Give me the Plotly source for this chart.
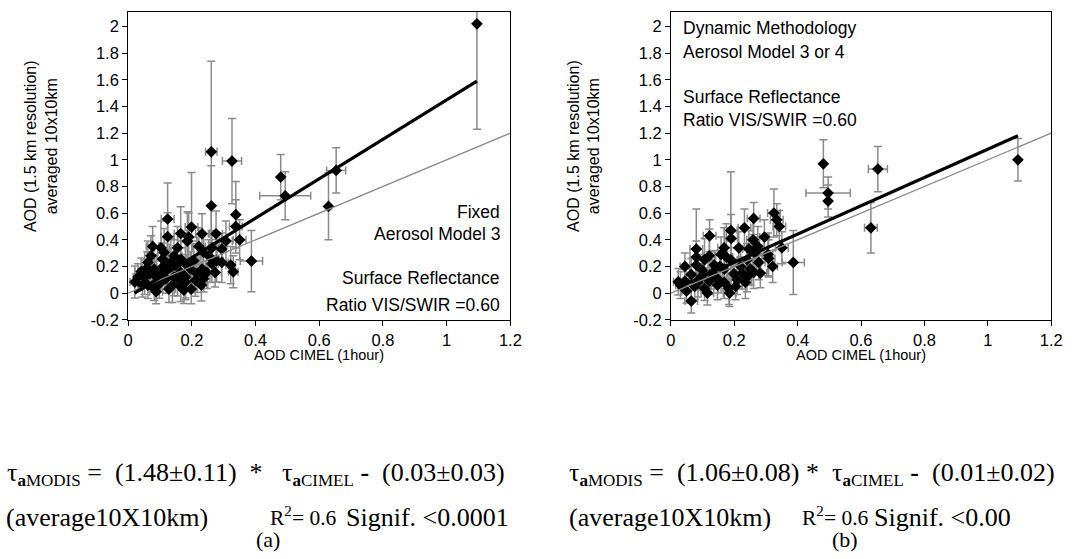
import plotly.graph_objects as go

W, H = 1076, 559

# ---------------- data ----------------
# Panel (a): Fixed, aerosol model 3
A_X = [1.095, 0.261, 0.326, 0.479, 0.493, 0.653, 0.629, 0.387, 0.261, 0.338,
       0.338, 0.350, 0.124, 0.124, 0.199, 0.165, 0.190, 0.232, 0.276, 0.186,
       0.307, 0.077, 0.103, 0.155, 0.222, 0.263, 0.294, 0.072, 0.108, 0.134,
       0.165, 0.206, 0.253, 0.278, 0.322, 0.021, 0.041, 0.052, 0.082, 0.103,
       0.124, 0.144, 0.165, 0.180, 0.196, 0.216, 0.237, 0.247, 0.273, 0.062,
       0.082, 0.098, 0.139, 0.165, 0.180, 0.175, 0.211, 0.088, 0.031, 0.150,
       0.180, 0.113, 0.237, 0.144, 0.062, 0.088, 0.067, 0.119, 0.155, 0.232,
       0.294, 0.263, 0.330, 0.198, 0.045, 0.128, 0.230, 0.060, 0.110]
A_Y = [2.02, 1.06, 0.99, 0.87, 0.73, 0.92, 0.65, 0.24, 0.655, 0.588,
       0.50, 0.40, 0.556, 0.423, 0.495, 0.447, 0.420, 0.445, 0.445, 0.390,
       0.390, 0.350, 0.340, 0.340, 0.350, 0.340, 0.330, 0.280, 0.255, 0.230,
       0.255, 0.243, 0.280, 0.243, 0.210, 0.083, 0.163, 0.120, 0.180, 0.145,
       0.180, 0.120, 0.155, 0.120, 0.180, 0.145, 0.108, 0.155, 0.155, 0.059,
       0.034, 0.071, 0.059, 0.047, 0.083, 0.022, 0.096, 0.010, 0.120, 0.207,
       0.220, 0.305, 0.305, 0.280, 0.230, 0.120, 0.145, 0.108, 0.108, 0.180,
       0.230, 0.220, 0.160, 0.030, 0.060, 0.030, 0.060, 0.190, 0.200]
A_EX = [0.000, 0.018, 0.030, 0.000, 0.080, 0.030, 0.000, 0.035, 0.000, 0.000,
        0.020, 0.020, 0.020, 0.020, 0.020, 0.020, 0.025, 0.020, 0.020, 0.030,
        0.020, 0.020, 0.020, 0.025, 0.020, 0.020, 0.015, 0.020, 0.020, 0.030,
        0.020, 0.020, 0.025, 0.020, 0.015, 0.015, 0.020, 0.020, 0.020, 0.025,
        0.020, 0.020, 0.030, 0.020, 0.020, 0.025, 0.020, 0.020, 0.020, 0.015,
        0.020, 0.020, 0.025, 0.020, 0.020, 0.020, 0.025, 0.020, 0.015, 0.030,
        0.020, 0.020, 0.020, 0.025, 0.020, 0.020, 0.015, 0.020, 0.020, 0.020,
        0.020, 0.020, 0.015, 0.020, 0.015, 0.020, 0.020, 0.015, 0.020]
A_EY = [0.79, 0.68, 0.32, 0.17, 0.18, 0.17, 0.25, 0.23, 0.30, 0.25,
        0.20, 0.15, 0.27, 0.18, 0.41, 0.20, 0.18, 0.15, 0.17, 0.22,
        0.15, 0.15, 0.20, 0.16, 0.14, 0.13, 0.12, 0.15, 0.12, 0.18,
        0.14, 0.13, 0.12, 0.16, 0.14, 0.12, 0.10, 0.13, 0.11, 0.12,
        0.15, 0.14, 0.12, 0.17, 0.13, 0.14, 0.10, 0.12, 0.11, 0.10,
        0.09, 0.11, 0.13, 0.11, 0.12, 0.10, 0.12, 0.09, 0.10, 0.15,
        0.16, 0.18, 0.14, 0.12, 0.16, 0.12, 0.10, 0.11, 0.13, 0.12,
        0.15, 0.14, 0.12, 0.11, 0.09, 0.10, 0.12, 0.12, 0.13]

# Panel (b): Dynamic methodology, aerosol model 3 or 4
B_X = [1.095, 0.653, 0.631, 0.481, 0.496, 0.496, 0.325, 0.334, 0.342, 0.350,
       0.321, 0.386, 0.261, 0.232, 0.189, 0.122, 0.190, 0.259, 0.295, 0.274,
       0.246, 0.214, 0.168, 0.080, 0.121, 0.080, 0.158, 0.106, 0.189, 0.240,
       0.277, 0.137, 0.080, 0.220, 0.044, 0.168, 0.251, 0.100, 0.199, 0.064,
       0.137, 0.240, 0.023, 0.044, 0.085, 0.121, 0.168, 0.209, 0.075, 0.106,
       0.147, 0.183, 0.049, 0.064, 0.204, 0.235, 0.261, 0.282, 0.308, 0.306,
       0.155, 0.130, 0.175, 0.030, 0.095, 0.225, 0.265, 0.115, 0.185, 0.150]
B_Y = [1.00, 0.93, 0.49, 0.97, 0.75, 0.69, 0.60, 0.55, 0.50, 0.34,
       0.20, 0.23, 0.56, 0.49, 0.47, 0.43, 0.41, 0.40, 0.42, 0.35,
       0.33, 0.34, 0.34, 0.33, 0.28, 0.27, 0.29, 0.25, 0.25, 0.25,
       0.23, 0.21, 0.21, 0.20, 0.20, 0.18, 0.18, 0.17, 0.145, 0.14,
       0.13, 0.12, 0.085, 0.09, 0.08, 0.09, 0.08, 0.10, 0.05, 0.035,
       0.06, 0.035, 0.015, -0.06, 0.05, 0.08, 0.155, 0.15, 0.26, 0.29,
       0.20, 0.15, 0.27, 0.06, 0.12, 0.15, 0.30, 0.00, 0.00, 0.10]
B_EX = [0.000, 0.030, 0.020, 0.000, 0.070, 0.000, 0.020, 0.020, 0.020, 0.020,
        0.015, 0.035, 0.020, 0.020, 0.020, 0.020, 0.020, 0.020, 0.015, 0.020,
        0.020, 0.025, 0.020, 0.020, 0.020, 0.020, 0.020, 0.020, 0.020, 0.020,
        0.020, 0.020, 0.020, 0.025, 0.015, 0.020, 0.020, 0.020, 0.020, 0.015,
        0.025, 0.020, 0.015, 0.015, 0.020, 0.020, 0.020, 0.020, 0.020, 0.020,
        0.020, 0.025, 0.015, 0.020, 0.020, 0.020, 0.020, 0.020, 0.020, 0.015,
        0.020, 0.020, 0.020, 0.015, 0.020, 0.020, 0.020, 0.020, 0.020, 0.020]
B_EY = [0.16, 0.17, 0.19, 0.18, 0.12, 0.12, 0.18, 0.12, 0.12, 0.12,
        0.12, 0.24, 0.12, 0.14, 0.44, 0.12, 0.18, 0.16, 0.13, 0.15,
        0.14, 0.12, 0.15, 0.30, 0.20, 0.12, 0.13, 0.16, 0.14, 0.12,
        0.13, 0.11, 0.12, 0.12, 0.10, 0.13, 0.12, 0.12, 0.11, 0.12,
        0.10, 0.11, 0.10, 0.09, 0.11, 0.10, 0.12, 0.11, 0.10, 0.09,
        0.11, 0.12, 0.09, 0.09, 0.10, 0.12, 0.12, 0.11, 0.14, 0.16,
        0.12, 0.10, 0.25, 0.10, 0.10, 0.12, 0.12, 0.09, 0.10, 0.10]

# regression lines (end points) and 1:1 line
A_FIT_X = [0.02, 1.095]
A_FIT_Y = [0.0, 1.59]
B_FIT_X = [0.02, 1.095]
B_FIT_Y = [0.04, 1.18]
ONE_X = [-0.05, 1.25]
ONE_Y = [-0.05, 1.25]

X_TICKS = [0, 0.2, 0.4, 0.6, 0.8, 1.0, 1.2]
X_TICK_TEXT = ["0", "0.2", "0.4", "0.6", "0.8", "1", "1.2"]
Y_TICKS = [-0.2, 0, 0.2, 0.4, 0.6, 0.8, 1.0, 1.2, 1.4, 1.6, 1.8, 2.0]
Y_TICK_TEXT = ["-0.2", "0", "0.2", "0.4", "0.6", "0.8", "1", "1.2", "1.4", "1.6", "1.8", "2"]

X_TITLE = "AOD CIMEL (1hour)"
Y_TITLE = "AOD (1.5 km resolution)<br>averaged 10x10km"

NB = "\u00a0"
SUB_M = "<sub><span style='font-size:17px'><b>a</b>MODIS</span></sub>"
SUB_C = "<sub><span style='font-size:17px'><b>a</b>CIMEL</span></sub>"
EQ_A = ("τ" + SUB_M + NB + "=" + NB * 2 + "(1.48±0.11)" + NB * 2 + "*" + NB * 3 + "τ" + SUB_C
        + NB + "<b>-</b>" + NB * 2 + "(0.03±0.03)")
EQ_B = ("τ" + SUB_M + NB + "=" + NB * 2 + "(1.06±0.08)" + NB + "*" + NB * 2 + "τ" + SUB_C
        + NB + "<b>-</b>" + NB * 2 + "(0.01±0.02)")
STATS_A = ["(average10X10km)", "R<sup>2</sup>= 0.6", "Signif. <0.0001", "(a)"]
STATS_B = ["(average10X10km)", "R<sup>2</sup>= 0.6", "Signif. <0.00", "(b)"]

# ---------------- figure ----------------
SANS = "Liberation Sans, Arial, sans-serif"
SERIF = "Liberation Serif, Times New Roman, serif"
GREY = "#8a8a8a"

fig = go.Figure()


def add_panel(xs, ys, exs, eys, fx, fy, xa, ya):
    fig.add_trace(go.Scatter(
        x=xs, y=ys, mode="markers", xaxis=xa, yaxis=ya,
        marker=dict(symbol="diamond", size=9, color="black"),
        error_x=dict(type="data", array=exs, color=GREY, thickness=1.5, width=4),
        error_y=dict(type="data", array=eys, color=GREY, thickness=1.5, width=4),
        showlegend=False, cliponaxis=True))
    fig.add_trace(go.Scatter(
        x=ONE_X, y=ONE_Y, mode="lines", xaxis=xa, yaxis=ya,
        line=dict(color=GREY, width=1.3), showlegend=False))
    fig.add_trace(go.Scatter(
        x=fx, y=fy, mode="lines", xaxis=xa, yaxis=ya,
        line=dict(color="black", width=3.2), showlegend=False))


add_panel(A_X, A_Y, A_EX, A_EY, A_FIT_X, A_FIT_Y, "x", "y")
add_panel(B_X, B_Y, B_EX, B_EY, B_FIT_X, B_FIT_Y, "x2", "y2")

ydom = [1 - 325 / H, 1 - 12 / H]
ax_common = dict(showline=True, linecolor="black", linewidth=1, mirror=True,
                 ticks="outside", ticklen=5, tickcolor="black", showgrid=False,
                 zeroline=False, tickfont=dict(family=SANS, size=16.5, color="black"))
xa = dict(ax_common, range=[0, 1.2], tickvals=X_TICKS, ticktext=X_TICK_TEXT)
ya = dict(ax_common, range=[-0.2, 2.11], tickvals=Y_TICKS, ticktext=Y_TICK_TEXT)

fig.update_layout(
    width=W, height=H, margin=dict(l=0, r=0, t=0, b=0),
    paper_bgcolor="white", plot_bgcolor="white",
    xaxis=dict(xa, domain=[125 / W, 513 / W], anchor="y"),
    yaxis=dict(ya, domain=ydom, anchor="x"),
    xaxis2=dict(xa, domain=[676 / W, 1062 / W], anchor="y2"),
    yaxis2=dict(ya, domain=ydom, anchor="x2"),
)

ann = []
# axis titles
for xp in (36, 587):
    ann.append(dict(text=Y_TITLE, xref="paper", yref="paper", x=xp / W, y=1 - 148 / H,
                    textangle=-90, showarrow=False, xanchor="center", yanchor="middle",
                    font=dict(family=SANS, size=16, color="black")))
for xr in ("x", "x2"):
    ann.append(dict(text=X_TITLE, xref=xr + " domain", yref="paper", x=0.5, y=1 - 361 / H,
                    showarrow=False, xanchor="center", yanchor="middle",
                    font=dict(family=SANS, size=14.5, color="black")))

# panel texts
AF = dict(family=SANS, size=17.5, color="black")
for t, yv in [("Fixed", 0.605), ("Aerosol Model 3", 0.443),
              ("Surface Reflectance", 0.11), ("Ratio VIS/SWIR =0.60", -0.089)]:
    ann.append(dict(text=t, xref="x", yref="y", x=1.175, y=yv, xanchor="right",
                    yanchor="middle", showarrow=False, font=AF))
for t, yv in [("Dynamic Methodology", 1.986), ("Aerosol Model 3 or 4", 1.806),
              ("Surface Reflectance", 1.474), ("Ratio VIS/SWIR =0.60", 1.30)]:
    ann.append(dict(text=t, xref="x2", yref="y2", x=0.033, y=yv, xanchor="left",
                    yanchor="middle", showarrow=False, font=AF))

# equations / statistics
SF = dict(family=SERIF, size=26, color="black")
SF_R = dict(family=SERIF, size=21.5, color="black")
SF_L = dict(family=SERIF, size=22, color="black")


def txt(t, xpx, ypx, font, anchor="left", yanchor="top"):
    ann.append(dict(text=t, xref="paper", yref="paper", x=xpx / W, y=1 - ypx / H,
                    xanchor=anchor, yanchor=yanchor, showarrow=False, font=font,
                    borderpad=0))


EQ_TOP, ST_TOP = 464, 510
txt(EQ_A, 1, EQ_TOP, SF)
txt(EQ_B, 571, EQ_TOP, SF)
for stats, x0, rx, sx, lx in [(STATS_A, 0, 268, 345, 267), (STATS_B, 571, 808, 881, 853)]:
    txt(stats[0], x0, ST_TOP, SF)
    txt(stats[1], rx, ST_TOP, SF_R)
    txt(stats[2], sx, ST_TOP, SF)
    txt(stats[3], lx, 548, SF_L, anchor="center", yanchor="middle")

fig.update_layout(annotations=ann)
fig.write_html("out.html", config={"displayModeBar": False},
               post_script="document.body.style.margin='0px';")
